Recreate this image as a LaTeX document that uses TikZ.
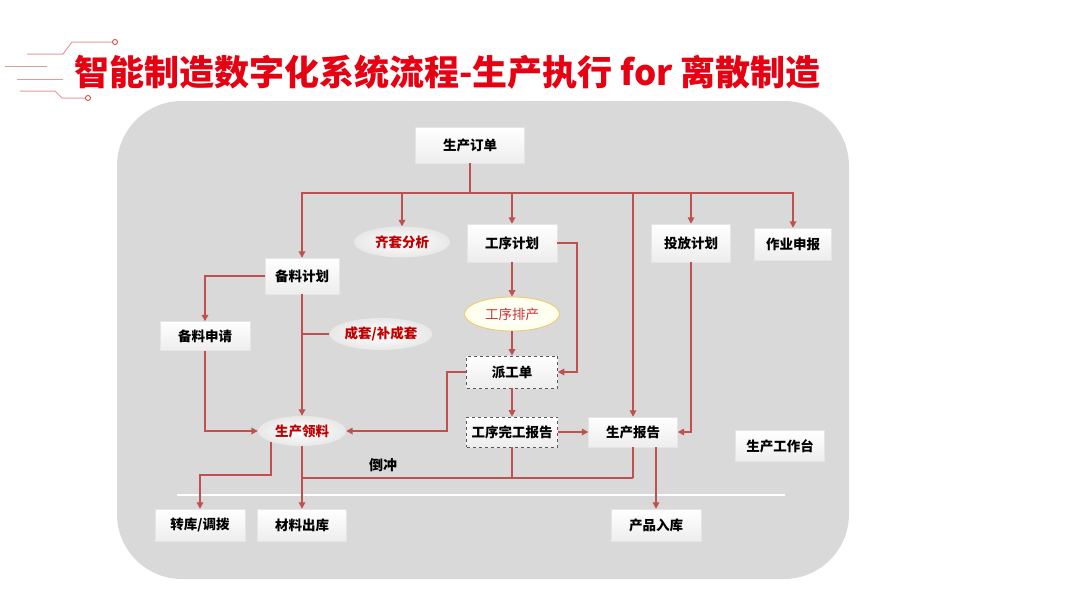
\documentclass[tikz,border=0pt]{standalone}
\usepackage{fontspec}
\newfontfamily\cjk{Noto Sans CJK SC}
\usetikzlibrary{arrows.meta,shapes.geometric,calc}
\definecolor{bgray}{HTML}{D9D9D9}
\definecolor{lred}{HTML}{C0504D}
\definecolor{tred}{HTML}{E60012}
\definecolor{dred}{HTML}{C00000}
\definecolor{decor}{HTML}{E89A9A}
\definecolor{ylw}{HTML}{EBC86A}
\begin{document}
\begin{tikzpicture}[x=1pt,y=-1pt,
  box/.style={rectangle, minimum width=#1, minimum height=32pt, inner sep=0pt,
    top color=white, bottom color=gray!14, draw=white!90!black, line width=0.4pt,
    font=\cjk\bfseries\fontsize{13.5}{15}\selectfont, text=black},
  box/.default=90pt,
  dbox/.style={box=91pt, draw=gray!70!black, dashed, line width=0.7pt},
  oval/.style={ellipse, minimum width=#1, minimum height=31pt, inner sep=0pt,
    inner color=white, outer color=gray!18, draw=none,
    font=\cjk\bfseries\fontsize{13.5}{15}\selectfont, text=dred},
  oval/.default=95pt,
  line/.style={draw=lred, line width=1.6pt},
  arr/.style={line, -{Triangle[length=6.5pt,width=6.5pt]}},
]
\useasboundingbox (0,0) rectangle (1080,608);
\fill[white] (0,0) rectangle (1080,608);
% title decoration
\draw[decor, line width=1pt] (27,54) -- (63,54) -- (72,42) -- (112,42);
\draw[dred!80, line width=0.8pt, fill=white] (115,42) circle (2.5pt);
\draw[decor, line width=1pt] (5,66) -- (47,66);
\draw[decor, line width=1pt] (17,79) -- (63,79);
\draw[decor, line width=1pt] (20,91) -- (55,91) -- (62,98) -- (85,98);
\draw[dred!80, line width=0.8pt, fill=white] (88,98) circle (2.5pt);
\node[anchor=west, inner sep=0pt, text=tred, font=\cjk\bfseries\fontsize{35}{40}\selectfont] (title) at (74,72) {智能制造数字化系统流程-生产执行 for 离散制造};
% background
\fill[bgray, rounded corners=65pt] (117,101) rectangle (849,579);
\draw[white, line width=1.2pt] (177,495) -- (785,495);
% nodes
\node[box=109pt, minimum height=36pt] (order) at (470,145) {生产订单};
\node[oval=96pt] (qitao) at (402,242) {齐套分析};
\node[box=90pt, minimum height=38pt] (gxplan) at (512,243) {工序计划};
\node[box=79pt, minimum height=38pt] (tfplan) at (691,243) {投放计划};
\node[box=77pt] (zysb) at (793,244) {作业申报};
\node[box=74pt, minimum height=36pt] (beiplan) at (302,276) {备料计划};
\node[box=90pt, minimum height=29pt] (beiapp) at (205,336) {备料申请};
\node[oval=95pt, minimum height=32pt] (chengtao) at (381,334) {成套/补成套};
\node[ellipse, minimum width=95pt, minimum height=34pt, inner sep=0pt, draw=ylw, line width=0.8pt,
  inner color=white, outer color=white!92!yellow, font=\cjk\fontsize{13.5}{15}\selectfont, text=dred!80] (paichan) at (512,314) {工序排产};
\node[dbox] (paigong) at (512,372) {派工单};
\node[dbox, minimum height=30pt] (wangong) at (512,432) {工序完工报告};
\node[box=89pt, minimum height=30pt] (report) at (633,432) {生产报告};
\node[box=89pt, minimum height=31pt] (workbench) at (780,446) {生产工作台};
\node[oval=88pt, minimum height=30pt] (lingliao) at (302,431) {生产领料};
\node[box=90pt] (zhuanku) at (200,525) {转库/调拨};
\node[box=89pt] (chuku) at (302,525) {材料出库};
\node[box=90pt] (ruku) at (656,525) {产品入库};
\node[font=\cjk\bfseries\fontsize{14}{16}\selectfont] (daochong) at (383,465) {倒冲};
% connectors
\draw[line] (order.south) -- ++(0,30) coordinate (bj);
\draw[arr] (bj) -| (beiplan.north);
\draw[arr] (bj) -| (qitao.north);
\draw[arr] (bj) -| (gxplan.north);
\draw[arr] (bj) -| (report.north);
\draw[arr] (bj) -| (tfplan.north);
\draw[arr] (bj) -| (zysb.north);
\draw[arr] (beiplan.west) -| (beiapp.north);
\draw[arr] (beiplan.south) -- (lingliao.north);
\draw[line] (beiplan.south |- chengtao.west) -- (chengtao.west);
\draw[arr] (beiapp.south) |- (lingliao.west);
\draw[arr] (gxplan.east) -- ++(20,0) |- (paigong.east);
\draw[arr] (gxplan.south) -- (paichan.north);
\draw[arr] (paichan.south) -- (paigong.north);
\draw[arr] (paigong.west) -- ++(-19,0) |- (lingliao.east);
\draw[arr] (paigong.south) -- (wangong.north);
\draw[arr] (wangong.east) -- (report.west);
\draw[arr] (tfplan.south) |- (report.east);
\draw[line] (report.south) -- ++(0,31) coordinate (bk);
\draw[line] (bk) -- (lingliao.south |- bk);
\draw[line] (wangong.south) -- (wangong.south |- bk);
\draw[arr] (lingliao.south) -- (chuku.north);
\draw[arr] (lingliao.south west) -- ++(0,33) -| (zhuanku.north);
\draw[arr] (ruku.north |- report.south) -- (ruku.north);
\end{tikzpicture}
\end{document}
